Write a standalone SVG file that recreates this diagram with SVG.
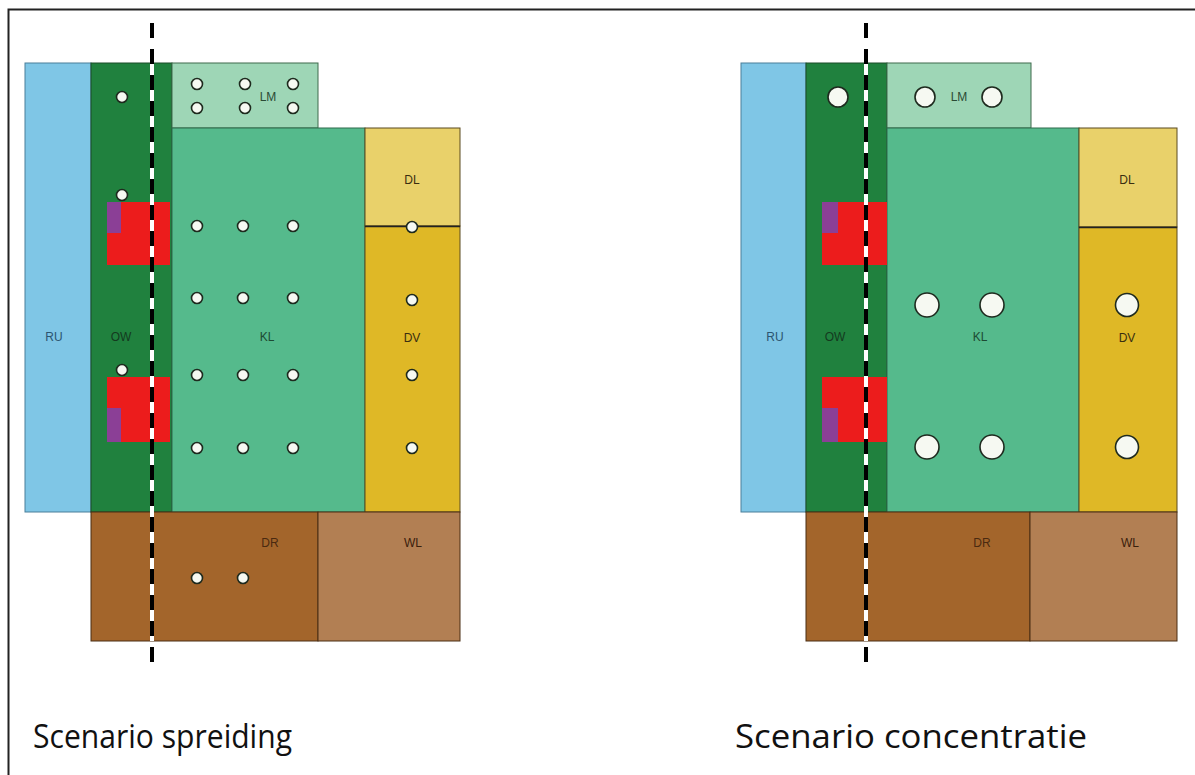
<svg xmlns="http://www.w3.org/2000/svg" width="1195" height="775" viewBox="0 0 1195 775">
<style>
.ru{fill:#7fc6e6;stroke:#4a7f9a;stroke-width:1}
.ow{fill:#20813e;stroke:#1a4d28;stroke-width:1}
.lm{fill:#9ed6b6;stroke:#3e6a4c;stroke-width:1}
.kl{fill:#55ba8c;stroke:#2e6a4c;stroke-width:1}
.dl{fill:#e9d16a;stroke:#5a4a20;stroke-width:1}
.dv{fill:#dfb826;stroke:#5a4a20;stroke-width:1}
.dr{fill:#a3652b;stroke:#4a2e14;stroke-width:1}
.wl{fill:#b27f53;stroke:#4a2e14;stroke-width:1}
.red{fill:#ec1c1c}
.pur{fill:#8b3f96}
.dot{fill:#f6f9f2;stroke:#1e2a1e;stroke-width:1.6}
.lbl{font-family:"Liberation Sans",Arial,sans-serif;font-size:12px;text-anchor:middle;dominant-baseline:central}
.cap{font-family:"Open Sans","Liberation Sans",sans-serif;font-size:33px;fill:#111}
.dashw{stroke:#ffffff;stroke-width:4}
.dashb{stroke:#000000;stroke-width:4;stroke-dasharray:15 11}
</style>
<rect x="0" y="0" width="1195" height="775" fill="#ffffff"/>
<path d="M8.5 775 V9.5 H1195" fill="none" stroke="#222" stroke-width="2"/>

<!-- Left diagram: Scenario spreiding -->
<g id="left-RU"><rect class="ru" x="25" y="63" width="66" height="449"/><text class="lbl" x="54" y="337" fill="#2b5570">RU</text></g>
<g id="left-OW"><rect class="ow" x="91" y="63" width="81" height="449"/><text class="lbl" x="121" y="337" fill="#143a1e">OW</text></g>
<g id="left-LM"><rect class="lm" x="172" y="63" width="146" height="65"/><text class="lbl" x="268" y="97" fill="#2a4a34">LM</text></g>
<g id="left-KL"><rect class="kl" x="172" y="128" width="193" height="384"/><text class="lbl" x="267" y="337" fill="#1d4a33">KL</text></g>
<g id="left-DL"><rect class="dl" x="365" y="128" width="95" height="98"/><text class="lbl" x="412" y="180" fill="#3a2e10">DL</text></g>
<g id="left-DV"><rect class="dv" x="365" y="226" width="95" height="286"/><line x1="365" y1="226.5" x2="460" y2="226.5" stroke="#222" stroke-width="1.6"/><text class="lbl" x="412" y="338" fill="#3a2e10">DV</text></g>
<g id="left-DR"><rect class="dr" x="91" y="512" width="227" height="129"/><text class="lbl" x="270" y="543" fill="#4a2a10">DR</text></g>
<g id="left-WL"><rect class="wl" x="318" y="512" width="142" height="129"/><text class="lbl" x="413" y="543" fill="#3a200c">WL</text></g>
<g id="left-buildings">
<rect class="red" x="107" y="202" width="63" height="63"/><rect class="pur" x="107" y="202" width="14" height="31"/>
<rect class="red" x="107" y="377" width="63" height="65"/><rect class="pur" x="107" y="408" width="14" height="34"/>
</g>
<g id="left-dots">
<circle class="dot" cx="122" cy="97" r="5.5"/><circle class="dot" cx="122" cy="195" r="5.5"/><circle class="dot" cx="122" cy="370" r="5.5"/>
<circle class="dot" cx="197" cy="84" r="5.5"/><circle class="dot" cx="245" cy="84" r="5.5"/><circle class="dot" cx="293" cy="84" r="5.5"/>
<circle class="dot" cx="197" cy="108" r="5.5"/><circle class="dot" cx="245" cy="108" r="5.5"/><circle class="dot" cx="293" cy="108" r="5.5"/>
<circle class="dot" cx="197" cy="226" r="5.5"/><circle class="dot" cx="243" cy="226" r="5.5"/><circle class="dot" cx="293" cy="226" r="5.5"/>
<circle class="dot" cx="197" cy="298" r="5.5"/><circle class="dot" cx="243" cy="298" r="5.5"/><circle class="dot" cx="293" cy="298" r="5.5"/>
<circle class="dot" cx="197" cy="375" r="5.5"/><circle class="dot" cx="243" cy="375" r="5.5"/><circle class="dot" cx="293" cy="375" r="5.5"/>
<circle class="dot" cx="197" cy="448" r="5.5"/><circle class="dot" cx="243" cy="448" r="5.5"/><circle class="dot" cx="293" cy="448" r="5.5"/>
<circle class="dot" cx="412" cy="227" r="5.5"/><circle class="dot" cx="412" cy="300" r="5.5"/><circle class="dot" cx="412" cy="375" r="5.5"/><circle class="dot" cx="412" cy="448" r="5.5"/>
<circle class="dot" cx="197" cy="578" r="5.5"/><circle class="dot" cx="243" cy="578" r="5.5"/>
</g>

<!-- Right diagram: Scenario concentratie -->
<g id="right-RU"><rect class="ru" x="741" y="63" width="65" height="449"/><text class="lbl" x="775" y="337" fill="#2b5570">RU</text></g>
<g id="right-OW"><rect class="ow" x="806" y="63" width="81" height="449"/><text class="lbl" x="835" y="337" fill="#143a1e">OW</text></g>
<g id="right-LM"><rect class="lm" x="887" y="63" width="144" height="65"/><text class="lbl" x="959" y="97" fill="#2a4a34">LM</text></g>
<g id="right-KL"><rect class="kl" x="887" y="128" width="192" height="384"/><text class="lbl" x="980" y="337" fill="#1d4a33">KL</text></g>
<g id="right-DL"><rect class="dl" x="1079" y="128" width="98" height="99"/><text class="lbl" x="1127" y="180" fill="#3a2e10">DL</text></g>
<g id="right-DV"><rect class="dv" x="1079" y="227" width="98" height="285"/><line x1="1079" y1="227.5" x2="1177" y2="227.5" stroke="#222" stroke-width="1.6"/><text class="lbl" x="1127" y="338" fill="#3a2e10">DV</text></g>
<g id="right-DR"><rect class="dr" x="806" y="512" width="224" height="129"/><text class="lbl" x="982" y="543" fill="#4a2a10">DR</text></g>
<g id="right-WL"><rect class="wl" x="1030" y="512" width="147" height="129"/><text class="lbl" x="1130" y="543" fill="#3a200c">WL</text></g>
<g id="right-buildings">
<rect class="red" x="822" y="202" width="65" height="63"/><rect class="pur" x="822" y="202" width="16" height="31"/>
<rect class="red" x="822" y="377" width="65" height="65"/><rect class="pur" x="822" y="408" width="16" height="34"/>
</g>
<g id="right-dots">
<circle class="dot" cx="838" cy="97" r="10"/>
<circle class="dot" cx="925" cy="97" r="10"/><circle class="dot" cx="992" cy="97" r="10"/>
<circle class="dot" cx="927" cy="305" r="12"/><circle class="dot" cx="992" cy="305" r="12"/>
<circle class="dot" cx="927" cy="447" r="12"/><circle class="dot" cx="992" cy="447" r="12"/>
<circle class="dot" cx="1127" cy="305" r="11.5"/><circle class="dot" cx="1127" cy="447" r="11.5"/>
</g>

<g id="connectors">
<line class="dashw" x1="152" y1="63" x2="152" y2="641"/>
<line class="dashb" x1="152" y1="23" x2="152" y2="665"/>
<line class="dashw" x1="866" y1="63" x2="866" y2="641"/>
<line class="dashb" x1="866" y1="23" x2="866" y2="665"/>
</g>

<g id="captions">
<text class="cap" x="33" y="748" textLength="259" lengthAdjust="spacingAndGlyphs">Scenario spreiding</text>
<text class="cap" x="735" y="748" textLength="352" lengthAdjust="spacingAndGlyphs">Scenario concentratie</text>
</g>
</svg>
